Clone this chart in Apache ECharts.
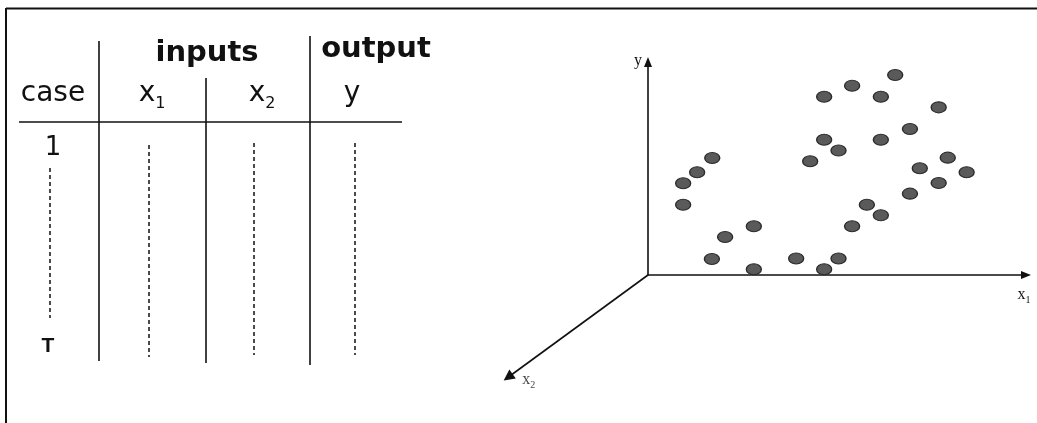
<!DOCTYPE html>
<html>
<head>
<meta charset="utf-8">
<script src="https://cdn.jsdelivr.net/npm/echarts@6/dist/echarts.min.js"></script>
<style>
html, body {margin: 0; padding: 0; background: #fff;}
#chart {width: 1037px; height: 423px;}
</style>
</head>
<body>
<div id="chart"></div>
<script>
// table text
var groups = ['inputs', 'output'];
var columns = ['case', 'x{s|1}', 'x{s|2}', 'y'];
var rows = ['1', 'T'];

// scatter points: x1 and y values
var ptsX = [17.0, 13.0, 9.3, 9.3, 28.0, 20.4, 16.9, 28.0, 65.4, 54.0, 46.6, 61.6, 76.9, 69.3, 46.6,
    61.6, 50.4, 42.9, 79.3, 71.9, 84.3, 76.9, 69.3, 57.9, 61.6, 54.0, 39.2, 50.4, 46.6];
var ptsY = [54.9, 48.2, 43.1, 33.0, 22.9, 17.8, 7.5, 2.7, 93.9, 88.9, 83.7, 83.7, 78.7, 68.5, 63.5,
    63.5, 58.4, 53.4, 55.1, 50.1, 48.2, 43.2, 38.2, 33.0, 28.0, 22.9, 7.7, 7.7, 2.7];
// the x2 axis goes out of the origin, down-left
var axisX2 = [[0, 0], [-37, -48]];
var axisNames = ['x{s|1}', 'y', 'x{s|2}'];

// table layout (pixels)
var groupPos = [[207, 53], [376, 49]];
var colPos = [53, 152, 262, 352];
var headY = 94;
var rowPos = [[53, 148], [48, 346]];
var solidCols = [[99, 41, 361], [206, 78, 363], [310, 36, 365]];
var dashCols = [[50, 168, 318], [149, 145, 357], [254, 143, 355], [355, 143, 355]];
var ruleY = 122;

var ink = '#111';
var sans = 'DejaVu Sans';
var serif = 'Liberation Serif';

var gfx = [];
// frame: top and left edge
gfx.push({type: 'line', shape: {x1: 6, y1: 8.5, x2: 1037, y2: 8.5}, style: {stroke: ink, lineWidth: 2}});
gfx.push({type: 'line', shape: {x1: 6, y1: 8, x2: 6, y2: 423}, style: {stroke: ink, lineWidth: 2}});

groups.forEach(function (g, i) {
    gfx.push({type: 'text', x: groupPos[i][0], y: groupPos[i][1], style: {
        text: g, fontFamily: sans, fontWeight: 'bold', fontSize: 29, fill: ink,
        align: 'center', verticalAlign: 'middle'}});
});
columns.forEach(function (c, i) {
    gfx.push({type: 'text', x: colPos[i], y: headY, style: {
        text: c, fontFamily: sans, fontSize: 28, fill: ink, lineHeight: 36,
        align: 'center', verticalAlign: 'middle',
        rich: {s: {fontFamily: sans, fontSize: 16, fill: ink, lineHeight: 16, verticalAlign: 'bottom'}}}});
});
rows.forEach(function (r, i) {
    var bold = r == 'T';
    gfx.push({type: 'text', x: rowPos[i][0], y: rowPos[i][1], style: {
        text: r, fontFamily: bold ? 'Liberation Sans' : sans, fontWeight: bold ? 'bold' : 'normal',
        fontSize: bold ? 21 : 26, fill: ink, align: 'center', verticalAlign: 'middle'}});
});
solidCols.forEach(function (c) {
    gfx.push({type: 'line', shape: {x1: c[0], y1: c[1], x2: c[0], y2: c[2]}, style: {stroke: ink, lineWidth: 1.6}});
});
gfx.push({type: 'line', shape: {x1: 19, y1: ruleY, x2: 402, y2: ruleY}, style: {stroke: ink, lineWidth: 1.6}});
dashCols.forEach(function (c) {
    gfx.push({type: 'line', shape: {x1: c[0], y1: c[1], x2: c[0], y2: c[2]},
        style: {stroke: ink, lineWidth: 1.5, lineDash: [4, 3]}});
});

var subRich = {s: {fontFamily: serif, fontSize: 10, color: ink, lineHeight: 10, verticalAlign: 'bottom'}};

var chart = echarts.init(document.getElementById('chart'));
var opt = {
    backgroundColor: '#fff',
    animation: false,
    graphic: gfx,
    grid: {left: 648, top: 62, right: 11, bottom: 148},
    xAxis: {
        type: 'value', min: 0, max: 100,
        axisLine: {show: true, onZero: false, symbol: ['none', 'triangle'], symbolSize: [8, 10],
            lineStyle: {color: ink, width: 1.6}},
        axisTick: {show: false}, axisLabel: {show: false}, splitLine: {show: false},
        name: axisNames[0], nameLocation: 'end', nameGap: -2,
        nameTextStyle: {fontFamily: serif, fontSize: 16, color: ink, lineHeight: 20,
            align: 'center', verticalAlign: 'top', padding: [10, 0, 0, 0], rich: subRich}
    },
    yAxis: {
        type: 'value', min: 0, max: 100,
        axisLine: {show: true, onZero: false, symbol: ['none', 'triangle'], symbolSize: [8, 10],
            lineStyle: {color: ink, width: 1.6}},
        axisTick: {show: false}, axisLabel: {show: false}, splitLine: {show: false},
        name: axisNames[1], nameLocation: 'end', nameGap: 1,
        nameTextStyle: {fontFamily: serif, fontSize: 16, color: ink,
            align: 'right', verticalAlign: 'middle', padding: [0, 6, 0, 0]}
    },
    series: [
        {
            type: 'lines', coordinateSystem: 'cartesian2d', clip: false, silent: true,
            data: [{coords: axisX2}],
            symbol: ['none', 'triangle'], symbolSize: [8, 11],
            lineStyle: {color: ink, width: 1.6, opacity: 1}
        },
        {
            type: 'scatter', clip: false, silent: true,
            data: [axisX2[1]], symbolSize: 0,
            label: {show: true, position: 'right', distance: 14, offset: [0, 3], formatter: axisNames[2],
                fontFamily: serif, fontSize: 16, color: ink, lineHeight: 20, rich: subRich}
        },
        {
            type: 'scatter', silent: true,
            data: ptsX.map(function (x, i) { return [x, ptsY[i]]; }),
            symbol: 'path://M0 5A5 5 0 1 1 10 5A5 5 0 1 1 0 5Z',
            symbolSize: [15, 11],
            itemStyle: {color: '#5a5a5a', borderColor: '#2b2b2b', borderWidth: 1.2, opacity: 1}
        }
    ]
};
chart.setOption(opt);
</script>
</body>
</html>
